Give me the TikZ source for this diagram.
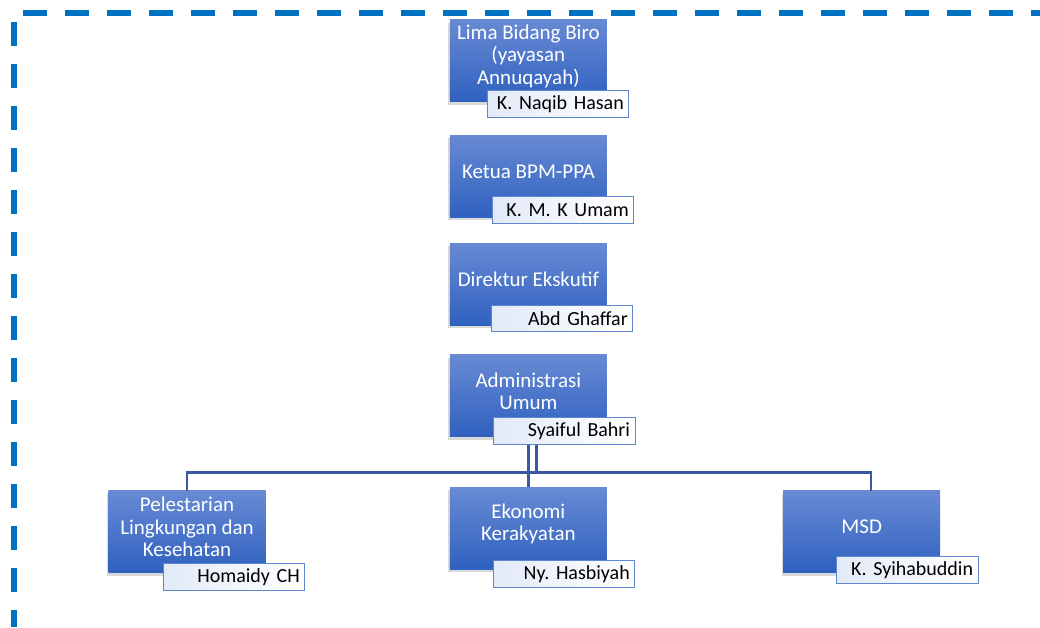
\documentclass[tikz,border=0pt]{standalone}
\usepackage{fontspec}
\setmainfont{Carlito}
\frenchspacing
\usetikzlibrary{shadows}

\definecolor{rahmen}{RGB}{0,112,192}
\definecolor{boxoben}{RGB}{104,138,212}
\definecolor{boxunten}{RGB}{47,97,191}
\definecolor{linie}{RGB}{58,90,160}
\definecolor{namerand}{RGB}{95,135,208}
\definecolor{namehell}{RGB}{226,234,248}

\tikzset{
	bidang/.style={rectangle, minimum width=157pt, minimum height=82pt, inner sep=0pt,
		top color=boxoben, bottom color=boxunten,
		drop shadow={shadow xshift=-1.5pt, shadow yshift=-3pt, opacity=0.3}},
	judul/.style={text=white, align=center, yshift=4.5pt,
		font=\fontsize{21}{22.5}\selectfont},
	nama/.style={rectangle, anchor=north west, minimum width=141.5pt, minimum height=26.5pt,
		text width=131.5pt, inner sep=5pt, align=right, draw=namerand, line width=1.2pt,
		left color=namehell, right color=white, font=\fontsize{20}{22}\selectfont},
	garis/.style={draw=linie, line width=2.5pt},
}

\begin{document}
\begin{tikzpicture}[x=1pt,y=-1pt]
	\useasboundingbox (0,0) rectangle (1040,627);

	% Rahmen gestrichelt
	\draw[rahmen, line width=5.5pt, dash pattern=on 24pt off 18pt] (23.3,12.8) -- (1040,12.8);
	\draw[rahmen, line width=5.5pt, dash pattern=on 24pt off 18pt] (14,21.7) -- (14,627);

	% obere Kette
	\node[bidang, label={[judul]center:{Lima Bidang Biro\\(yayasan\\Annuqayah)}}] (lima) at (528.35,60.85) {};
	\node[nama] (naqib) at (486.7,90) {K. Naqib Hasan};

	\node[bidang, label={[judul]center:{Ketua BPM-PPA}}] (ketua) at (528.35,176) {};
	\node[nama] (umam) at (491.7,196) {K. M. K Umam};

	\node[bidang, label={[judul]center:{Direktur Ekskutif}}] (direktur) at (528.35,284) {};
	\node[nama] (ghaffar) at (490.7,304.7) {Abd Ghaffar};

	\node[bidang, label={[judul]center:{Administrasi\\Umum}}] (admin) at (528.35,395.85) {};
	\node[nama] (syaiful) at (493,416.7) {Syaiful Bahri};

	% untere Reihe
	\node[bidang, label={[judul]center:{Pelestarian\\Lingkungan dan\\Kesehatan}}] (lestari) at (187,531.7) {};
	\node[nama] (homaidy) at (162.7,562.7) {Homaidy CH};

	\node[bidang, label={[judul]center:{Ekonomi\\Kerakyatan}}] (ekonomi) at (528.35,528.3) {};
	\node[nama] (hasbiyah) at (492.7,560) {Ny. Hasbiyah};

	\node[bidang, label={[judul]center:{MSD}}] (msd) at (861.7,531.7) {};
	\node[nama] (syihab) at (836,555.7) {K. Syihabuddin};

	% Verbindungen
	\coordinate (knoten) at (536.7,472.7);
	\draw[garis] (syaiful.south -| admin.south) -- (ekonomi.north);
	\draw[garis] (syaiful.south -| knoten) -- (knoten);
	\draw[garis] (lestari.north) |- (knoten) -| ([xshift=9.3pt]msd.north);
\end{tikzpicture}
\end{document}
